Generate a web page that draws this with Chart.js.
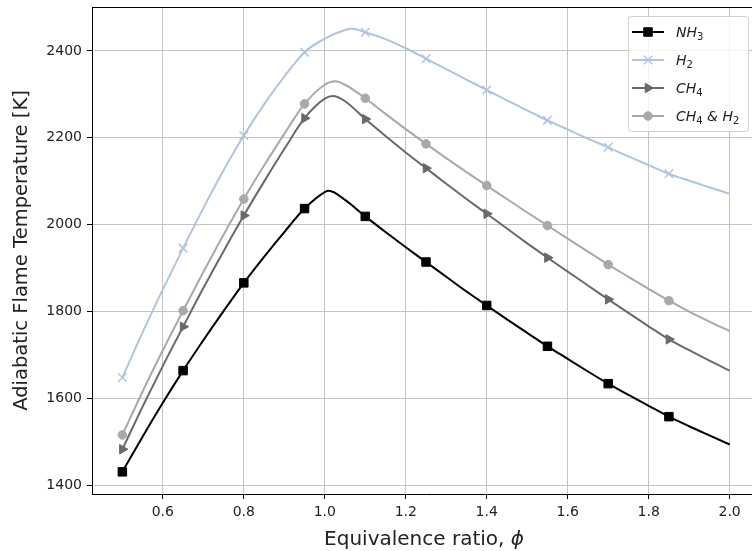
<!DOCTYPE html>
<html>
<head>
<meta charset="utf-8">
<script src="https://cdn.jsdelivr.net/npm/chart.js@4.4.0/dist/chart.umd.min.js"></script>
<style>
  html, body { margin: 0; padding: 0; background: #ffffff; overflow: hidden; width: 752px; height: 551px; }
  #wrap { position: absolute; left: 0; top: 0; width: 762px; height: 551px; }
</style>
</head>
<body>
<div id="wrap"><canvas id="c" width="762" height="551"></canvas></div>
<script>
// ---- data ----
const phi = [0.50,0.55,0.60,0.65,0.70,0.75,0.80,0.85,0.90,0.95,1.00,1.05,1.10,1.15,1.20,1.25,1.30,1.35,1.40,1.45,1.50,1.55,1.60,1.65,1.70,1.75,1.80,1.85,1.90,1.95,2.00];
const nh3   = [1431,1512,1590,1664,1734,1801,1866,1926,1983,2037,2075,2057,2019,1983,1948,1914,1880,1846,1814,1782,1751,1720,1691,1662,1634,1608,1583,1558,1536,1515,1494];
const h2    = [1648,1752,1851,1946,2038,2125,2205,2277,2341,2397,2428,2448,2443,2427,2406,2382,2358,2334,2310,2286,2263,2240,2219,2198,2178,2157,2137,2117,2101,2086,2071];
const ch4   = [1483,1581,1675,1765,1854,1939,2021,2099,2174,2245,2290,2284,2243,2204,2166,2130,2094,2059,2025,1991,1957,1924,1892,1860,1828,1797,1766,1736,1711,1687,1664];
const ch4h2 = [1516,1616,1711,1802,1891,1977,2059,2136,2209,2278,2322,2322,2291,2255,2220,2186,2153,2121,2090,2059,2028,1998,1968,1938,1908,1880,1852,1825,1800,1777,1755];
// peak of each curve (phi, T), order: NH3, H2, CH4, CH4&H2
const peakPhi = [1.01, 1.067, 1.02, 1.026];
const peakT   = [2078, 2451, 2296, 2330];
// phi values that carry a marker
const markerPhi = [0.50,0.65,0.80,0.95,1.10,1.25,1.40,1.55,1.70,1.85];
const seriesLabels = ['NH\u2083', 'H\u2082', 'CH\u2084', 'CH\u2084 & H\u2082'];
const xTicks = [0.6,0.8,1.0,1.2,1.4,1.6,1.8,2.0];
const yTicks = [1400,1600,1800,2000,2200,2400];
const xTitleText = 'Equivalence ratio, ';
const xTitleSymbol = '\u03d5';
const yTitleText = 'Adiabatic Flame Temperature [K]';

// ---- styling ----
const colors = ['#000000', '#b0c4de', '#696969', '#a9a9a9'];
const styles = [
  {pointStyle: 'rect', rotation: 0, radius: 6, bw: 1},
  {pointStyle: 'crossRot', rotation: 0, radius: 6, bw: 1.5},
  {pointStyle: 'triangle', rotation: 90, radius: 5.5, bw: 1},
  {pointStyle: 'circle', rotation: 0, radius: 4.3, bw: 1}
];

function buildPoints(vals, k) {
  const pts = phi.map((p, i) => ({x: p, y: vals[i]}));
  pts.push({x: peakPhi[k], y: peakT[k]});
  pts.sort((a, b) => a.x - b.x);
  return pts;
}
function isMarker(x) { return markerPhi.some(m => Math.abs(m - x) < 1e-6); }

const allVals = [nh3, h2, ch4, ch4h2];
const datasets = allVals.map((vals, k) => ({
  label: seriesLabels[k],
  data: buildPoints(vals, k),
  borderColor: colors[k],
  backgroundColor: colors[k],
  borderWidth: 2,
  pointStyle: styles[k].pointStyle,
  rotation: styles[k].rotation,
  pointBorderWidth: styles[k].bw,
  pointBorderColor: colors[k],
  pointBackgroundColor: colors[k],
  pointRadius: ctx => (ctx.raw && isMarker(ctx.raw.x)) ? styles[k].radius : 0,
  pointHoverRadius: 0,
  cubicInterpolationMode: 'monotone',
  fill: false,
  order: 4 - k
}));

const FONT = "'DejaVu Sans', sans-serif";
Chart.defaults.font.family = FONT;
Chart.defaults.color = '#222222';

const SUBS = {'\u2080':'0','\u2081':'1','\u2082':'2','\u2083':'3','\u2084':'4','\u2085':'5','\u2086':'6','\u2087':'7','\u2088':'8','\u2089':'9'};
function drawMathLabel(ctx, text, x, y, size) {
  let cx = x;
  for (const ch of text) {
    if (SUBS[ch]) {
      ctx.font = Math.round(size * 0.7) + 'px ' + FONT;
      ctx.fillText(SUBS[ch], cx, y + size * 0.22);
      cx += ctx.measureText(SUBS[ch]).width;
    } else {
      ctx.font = 'italic ' + size + 'px ' + FONT;
      ctx.fillText(ch, cx, y);
      cx += ctx.measureText(ch).width;
    }
  }
}

const frameAndLegend = {
  id: 'frameAndLegend',
  afterDatasetsDraw(chart) {
    const ctx = chart.ctx, a = chart.chartArea;
    ctx.save();
    ctx.strokeStyle = '#000000';
    ctx.lineWidth = 1;
    ctx.beginPath();
    ctx.moveTo(a.left, Math.round(a.top) + 0.5);
    ctx.lineTo(a.right, Math.round(a.top) + 0.5);
    ctx.lineTo(a.right - 0.5, a.bottom);
    ctx.stroke();
    ctx.restore();
  },
  afterDraw(chart) {
    const ctx = chart.ctx, a = chart.chartArea;
    ctx.save();
    // x-axis title with italic phi
    ctx.fillStyle = '#222222';
    ctx.textBaseline = 'middle';
    ctx.textAlign = 'left';
    ctx.font = '20px ' + FONT;
    const w1 = ctx.measureText(xTitleText).width;
    ctx.font = 'italic 20px ' + FONT;
    const w2 = ctx.measureText(xTitleSymbol).width;
    const cx = (a.left + a.right) / 2 - 2;
    let sx = cx - (w1 + w2) / 2;
    ctx.font = '20px ' + FONT;
    ctx.fillText(xTitleText, sx, 540);
    ctx.font = 'italic 20px ' + FONT;
    ctx.fillText(xTitleSymbol, sx + w1, 540);

    // legend
    const bx = 628.5, by = 16.5, bw = 120, bh = 115, r = 3;
    ctx.beginPath();
    ctx.moveTo(bx + r, by);
    ctx.lineTo(bx + bw - r, by); ctx.quadraticCurveTo(bx + bw, by, bx + bw, by + r);
    ctx.lineTo(bx + bw, by + bh - r); ctx.quadraticCurveTo(bx + bw, by + bh, bx + bw - r, by + bh);
    ctx.lineTo(bx + r, by + bh); ctx.quadraticCurveTo(bx, by + bh, bx, by + bh - r);
    ctx.lineTo(bx, by + r); ctx.quadraticCurveTo(bx, by, bx + r, by);
    ctx.closePath();
    ctx.fillStyle = 'rgba(255,255,255,0.8)';
    ctx.fill();
    ctx.strokeStyle = '#d0d0d0';
    ctx.lineWidth = 1;
    ctx.stroke();
    chart.data.datasets.forEach((ds, k) => {
      const y = 32 + k * 28;
      ctx.strokeStyle = colors[k];
      ctx.lineWidth = 2;
      ctx.beginPath();
      ctx.moveTo(632, y); ctx.lineTo(664, y);
      ctx.stroke();
      ctx.fillStyle = colors[k];
      ctx.strokeStyle = colors[k];
      ctx.lineWidth = styles[k].bw;
      Chart.helpers.drawPoint(ctx, {pointStyle: styles[k].pointStyle, rotation: styles[k].rotation, radius: styles[k].radius, borderWidth: styles[k].bw}, 648, y);
      ctx.fillStyle = '#222222';
      ctx.textAlign = 'left';
      ctx.textBaseline = 'alphabetic';
      drawMathLabel(ctx, ds.label, 676, y + 5, 14);
    });
    ctx.restore();
  }
};

new Chart(document.getElementById('c'), {
  type: 'line',
  data: { datasets },
  options: {
    responsive: false,
    animation: false,
    devicePixelRatio: 1,
    layout: { autoPadding: false, padding: { left: 0, top: 7, right: 2, bottom: 0 } },
    plugins: { legend: { display: false }, tooltip: { enabled: false } },
    scales: {
      x: {
        type: 'linear',
        min: 0.425, max: 2.075,
        afterBuildTicks: s => { s.ticks = xTicks.map(v => ({value: v})); },
        afterFit: s => { s.height = 57; s.paddingLeft = 0; s.paddingRight = 0; s.paddingTop = 0; s.paddingBottom = 0; },
        grid: { color: '#c4c4c4', lineWidth: 1, tickColor: '#000000', tickLength: 5, drawTicks: true },
        border: { display: true, color: '#000000', width: 1 },
        ticks: { font: { size: 14 }, color: '#222222', padding: 5, maxRotation: 0, autoSkip: false,
                 callback: v => Number(v).toFixed(1) },
        title: { display: false }
      },
      y: {
        type: 'linear',
        min: 1380, max: 2501,
        afterBuildTicks: s => { s.ticks = yTicks.map(v => ({value: v})); },
        afterFit: s => { s.width = 92; s.paddingLeft = 0; s.paddingRight = 0; s.paddingTop = 0; s.paddingBottom = 0; },
        grid: { color: '#c4c4c4', lineWidth: 1, tickColor: '#000000', tickLength: 5, drawTicks: true },
        border: { display: true, color: '#000000', width: 1 },
        ticks: { font: { size: 14 }, color: '#222222', padding: 5, callback: v => String(v) },
        title: { display: true, text: yTitleText, font: { size: 19.5 }, color: '#222222', padding: { top: 10, bottom: 0 } }
      }
    }
  },
  plugins: [frameAndLegend]
});
</script>
</body>
</html>
